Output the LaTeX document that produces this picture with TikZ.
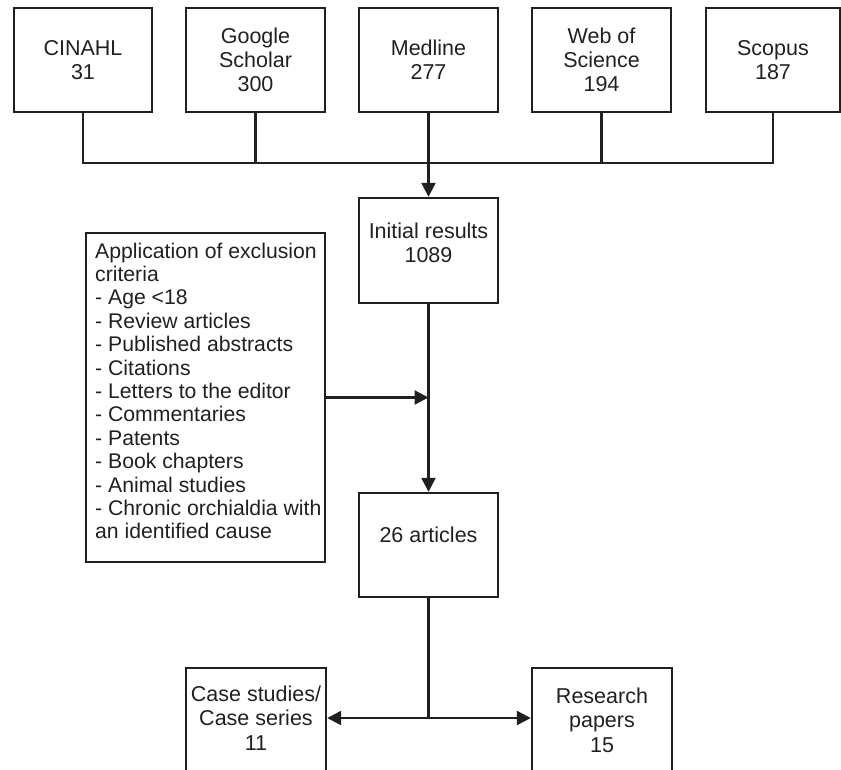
\documentclass[tikz,border=0pt]{standalone}
\usepackage{fontspec}
\setmainfont{Liberation Sans}
\usetikzlibrary{arrows.meta}
\definecolor{ink}{RGB}{35,31,32}
\begin{document}
\begin{tikzpicture}[x=1pt,y=-1pt,
  box/.style={draw=ink, line width=2.4pt, inner sep=0pt, align=center,
    text=ink, font=\fontsize{21.5}{24}\selectfont},
  txt/.style={inner sep=0pt, align=center, text=ink, font=\fontsize{21.5}{24.5}\selectfont},
  conn/.style={draw=ink, line width=2.4pt},
  arr/.style={draw=ink, line width=2.4pt, -{Triangle[length=14pt,width=14pt]}}]
\useasboundingbox (0,0) rectangle (841,769);
\clip (0,0) rectangle (841,769);
% top database boxes
\node[box, minimum width=138, minimum height=104] (cin) at (83,60) {CINAHL\\31};
\node[box, minimum width=139, minimum height=104] (gs) at (255.5,60) {Google\\Scholar\\300};
\node[box, minimum width=139, minimum height=104] (med) at (428.5,60) {Medline\\277};
\node[box, minimum width=139, minimum height=104] (wos) at (601.5,60) {Web of\\Science\\194};
\node[box, minimum width=134, minimum height=104] (sco) at (773,60) {Scopus\\187};
\coordinate (busy) at (0,163);
\draw[conn] (cin.south) -- (cin.south |- busy) -- (sco.south |- busy) -- (sco.south);
\draw[conn] (gs.south) -- (gs.south |- busy);
\draw[conn] (wos.south) -- (wos.south |- busy);
% initial results
\node[box, minimum width=139, minimum height=105] (init) at (428.5,250.5) {};
\node[txt] (initt) at (428.5,243) {Initial results\\1089};
\draw[arr] (med.south) -- (init.north);
% exclusion criteria
\node[box, minimum width=239, minimum height=329] (excl) at (205.5,397.5) {};
\node[inner sep=0pt, anchor=north west, align=left, text=ink,
  font=\fontsize{21.2}{23.4}\selectfont] (exclt) at (95,242.5) {Application of exclusion\\criteria\\
- Age <18\\- Review articles\\- Published abstracts\\- Citations\\- Letters to the editor\\
- Commentaries\\- Patents\\- Book chapters\\- Animal studies\\- Chronic orchialdia with\\an identified cause};
% 26 articles
\node[box, minimum width=139, minimum height=104] (arts) at (428.5,545) {};
\node[txt] (artst) at (428.5,535) {26 articles};
\draw[arr] (init.south) -- (arts.north);
\draw[arr] (excl.east) -- (excl.east -| init.south);
% bottom boxes
\node[box, minimum width=140, minimum height=130, anchor=north] (cs) at (256,667) {};
\node[txt] (cst) at (256,718) {Case studies/\\Case series\\11};
\node[box, minimum width=140, minimum height=130, anchor=north] (rp) at (602,667) {};
\node[txt] (rpt) at (602,720) {Research\\papers\\15};
\coordinate (sp) at (428.5,718);
\draw[conn] (arts.south) -- (sp);
\draw[arr] (sp) -- (sp -| cs.east);
\draw[arr] (sp) -- (sp -| rp.west);
\end{tikzpicture}
\end{document}
